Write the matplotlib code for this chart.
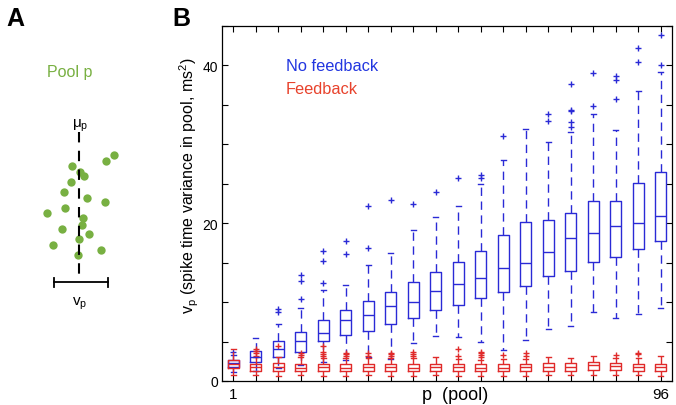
import matplotlib
matplotlib.use('Agg')
import matplotlib.pyplot as plt

plt.rcParams['font.family'] = ['Liberation Sans', 'DejaVu Sans']
plt.rcParams['mathtext.default'] = 'regular'

# panel B: box statistics per pool (No feedback = blue, Feedback = red)
pools = list(range(1, 21))
pool_labels = ['1'] + [''] * 18 + ['96']

blue_med = [2.3, 3.0, 4.05, 5.1, 6.1, 7.7, 8.4, 9.5, 10.0, 11.4, 12.3, 13.0, 14.3, 14.9, 16.3, 18.1, 18.7, 19.6, 20.0, 20.9]
blue_q1 = [1.8, 2.4, 3.0, 3.7, 5.1, 5.8, 6.3, 7.2, 8.0, 9.0, 9.6, 10.5, 11.3, 12.0, 13.3, 13.9, 15.1, 15.7, 16.7, 17.8]
blue_q3 = [2.7, 3.8, 5.1, 6.2, 7.7, 9.0, 10.1, 11.3, 12.5, 13.8, 15.1, 16.5, 18.5, 20.1, 20.4, 21.3, 22.8, 22.8, 25.1, 26.5]
blue_lo = [1.1, 1.3, 1.6, 2.0, 2.4, 2.6, 3.0, 2.8, 4.8, 5.7, 5.6, 4.9, 3.9, 5.2, 6.6, 7.0, 8.7, 8.0, 8.5, 9.2]
blue_hi = [3.3, 5.4, 7.2, 9.2, 11.5, 12.2, 14.7, 16.2, 19.1, 20.8, 22.2, 25.0, 28.0, 31.9, 30.3, 31.6, 33.8, 31.8, 36.8, 39.2]
blue_out = [[3.7], [], [8.7, 9.1], [10.4, 12.7, 13.5], [12.4, 15.2, 16.5], [16.1, 17.8],
            [16.8, 22.2], [23.0], [22.5], [23.9], [25.7], [25.7, 26.1], [31.0], [],
            [32.9, 33.8], [32.2, 32.8, 34.2, 34.4, 37.6], [34.9, 39.1], [35.7, 38.2, 38.6],
            [40.5, 42.2], [40.0, 43.9]]

red_med = [2.2, 1.8, 1.8, 1.7, 1.8, 1.7, 1.8, 1.8, 1.7, 1.8, 1.8, 1.7, 1.7, 1.8, 1.8, 1.8, 2.0, 1.9, 1.8, 1.8]
red_q1 = [1.6, 1.3, 1.3, 1.3, 1.3, 1.3, 1.3, 1.3, 1.3, 1.3, 1.3, 1.3, 1.3, 1.3, 1.3, 1.3, 1.4, 1.4, 1.3, 1.3]
red_q3 = [2.7, 2.2, 2.3, 2.1, 2.2, 2.1, 2.2, 2.2, 2.1, 2.2, 2.2, 2.1, 2.2, 2.2, 2.3, 2.3, 2.4, 2.3, 2.2, 2.2]
red_lo = [0.8, 0.7, 0.6, 0.7, 0.6, 0.6, 0.7, 0.6, 0.6, 0.7, 0.6, 0.6, 0.6, 0.6, 0.7, 0.7, 0.8, 0.7, 0.7, 0.6]
red_hi = [4.0, 3.0, 3.0, 3.0, 2.9, 2.9, 2.9, 2.9, 2.9, 3.0, 2.8, 2.7, 2.8, 2.8, 3.0, 2.9, 3.2, 2.9, 2.9, 3.2]
red_out = [[], [3.2, 3.5, 3.8, 4.0], [4.4], [3.3, 3.5], [3.2, 3.4, 3.7, 4.4], [3.2, 3.4, 3.6],
           [3.2, 3.5], [3.2, 3.4, 3.6], [3.2, 3.4, 3.7], [], [3.2, 4.0], [3.0, 3.3, 3.5, 3.7],
           [3.3], [3.2, 3.5], [], [], [], [3.3], [3.4, 3.6], []]

# panel A: schematic pool of spike times
dot_x = [114, 106, 72, 80, 84, 71, 64, 87, 105, 65, 47, 83, 82, 62, 89, 79, 53, 101, 78]
dot_y = [156, 162, 167, 173, 177, 183, 193, 199, 203, 209, 214, 219, 226, 230, 235, 240, 246, 251, 256]

BLUE = '#2a2ad6'
RED = '#e02a2a'
GREEN = '#78b042'


def stats(med, q1, q3, lo, hi, out):
    return [dict(med=m, q1=a, q3=b, whislo=l, whishi=h, fliers=f)
            for m, a, b, l, h, f in zip(med, q1, q3, lo, hi, out)]


def draw_boxes(ax, st, color):
    ax.bxp(st, positions=pools, widths=0.48, capwidths=0.22, showfliers=True,
           manage_ticks=False,
           boxprops=dict(color=color, lw=1.0),
           medianprops=dict(color=color, lw=1.0),
           whiskerprops=dict(color=color, lw=1.0, linestyle=(0, (6, 4))),
           capprops=dict(color=color, lw=1.0),
           flierprops=dict(marker='+', markeredgecolor=color, markersize=4, markeredgewidth=1.0))


fig = plt.figure(figsize=(6.76, 4.06), dpi=100)

# ---- panel A
axa = fig.add_axes([0, 0, 200 / 676, 1])
axa.set_xlim(0, 200)
axa.set_ylim(406, 0)
axa.axis('off')
axa.plot(dot_x, dot_y, 'o', color=GREEN, markersize=6, markeredgewidth=0)
axa.plot([79, 79], [133, 277], color='k', lw=1.5, dashes=(5, 4))
axa.plot([54, 108], [283, 283], color='k', lw=1.3)
axa.plot([54, 54], [279, 288], color='k', lw=1.3)
axa.plot([108, 108], [279, 288], color='k', lw=1.3)
axa.text(70, 72, 'Pool p', color=GREEN, fontsize=11.5, ha='center', va='center')
axa.text(80, 126, '$\\mu_p$', fontsize=11, ha='center', va='center')
axa.text(80, 304, '$v_p$', fontsize=11, ha='center', va='center')

fig.text(15 / 676, 1 - 19 / 406, 'A', fontsize=18, weight='bold', ha='center', va='center')
fig.text(181 / 676, 1 - 19 / 406, 'B', fontsize=18, weight='bold', ha='center', va='center')

# ---- panel B
ax = fig.add_axes([222 / 676, 1 - 382 / 406, 450 / 676, 355 / 406])
draw_boxes(ax, stats(blue_med, blue_q1, blue_q3, blue_lo, blue_hi, blue_out), BLUE)
draw_boxes(ax, stats(red_med, red_q1, red_q3, red_lo, red_hi, red_out), RED)

ax.set_xlim(0.5, 20.5)
ax.set_ylim(0, 45)
ax.set_xticks(pools)
ax.set_xticklabels(pool_labels)
yt = list(range(0, 50, 5))
ax.set_yticks(yt)
ax.set_yticklabels([str(v) if v in (0, 20, 40) else '' for v in yt])
ax.tick_params(direction='in', top=True, right=True, length=4, width=0.8, pad=3)
ax.tick_params(axis='x', labelsize=11, pad=4)
ax.tick_params(axis='y', labelsize=10)
for s in ax.spines.values():
    s.set_linewidth(0.9)

ax.set_xlabel('p  (pool)', fontsize=13, va='center')
ax.xaxis.set_label_coords(0.518, -0.037)
ax.set_ylabel('$v_p$ (spike time variance in pool, ms$^2$)', fontsize=11.5)
ax.yaxis.set_label_coords(-0.046, 0.552)

ax.text(0.142, 0.89, 'No feedback', color='#2236e0', fontsize=11.8, transform=ax.transAxes, va='center')
ax.text(0.142, 0.825, 'Feedback', color='#e8422c', fontsize=11.8, transform=ax.transAxes, va='center')

fig.savefig('out.png', dpi=100)
